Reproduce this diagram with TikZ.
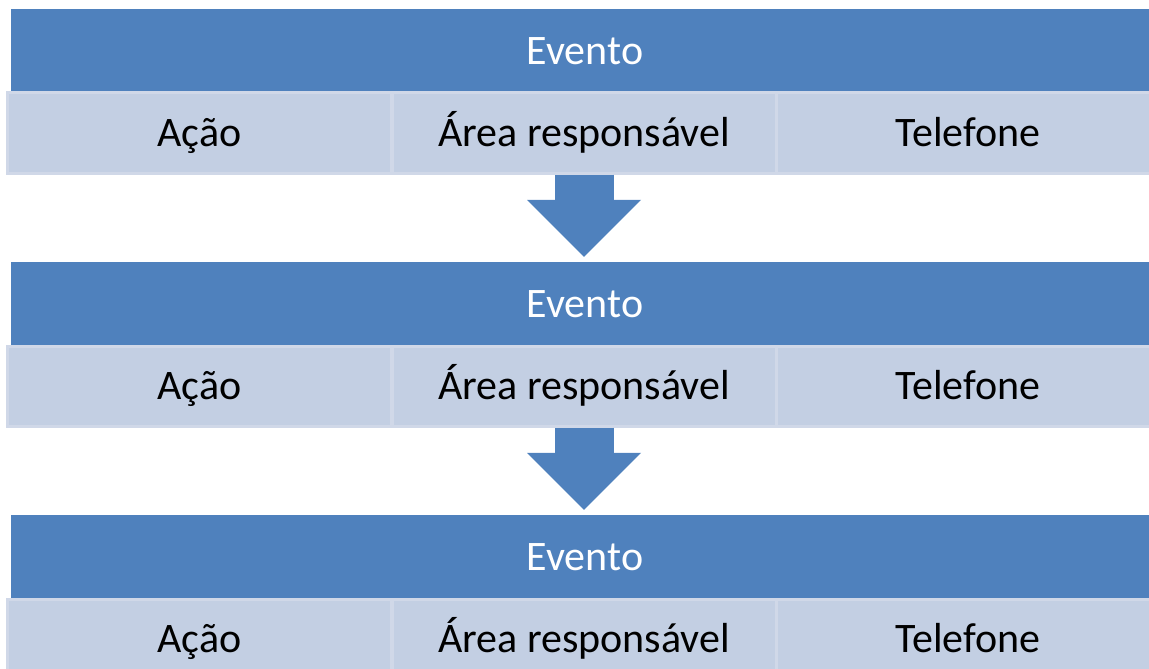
\documentclass[tikz,border=0pt]{standalone}
\usepackage{fontspec}
\setmainfont{Carlito}
\usetikzlibrary{arrows.meta}
\definecolor{eventBlue}{HTML}{4F81BD}
\definecolor{cellBlue}{HTML}{C3CFE3}
\definecolor{cellEdge}{HTML}{D0D8E8}
\begin{document}
\begin{tikzpicture}[x=1pt, y=-1pt,
	eventBand/.style={rectangle, fill=eventBlue, minimum width=1188pt, minimum height=85pt,
	inner sep=0pt, text=white, text height=30pt, text depth=3.5pt, font=\fontsize{42}{50}\selectfont},
	cellBox/.style={rectangle, fill=cellBlue, draw=cellEdge, line width=3pt, minimum width=384pt,
	minimum height=80pt, inner sep=0pt, text height=30pt, text depth=3.5pt,
	font=\fontsize{42}{50}\selectfont},
	lastCell/.style={cellBox, minimum width=424pt},
	downArrow/.style={eventBlue, line width=59pt, shorten >=5pt,
	-{Triangle[width=114pt, length=57pt, line width=0pt]}}]
		
		\clip (0,0) rectangle (1149,669);
		
		%First event
		\node (eventoA) at (605,51.5) [eventBand]{Evento\kern40pt};
		\node (acaoA) at (199.5,133) [cellBox]{Ação};
		\node (areaA) at (584,133) [cellBox]{Área responsável};
		\node (foneA) at (988,133) [lastCell]{Telefone\kern40pt};
		
		%Second event
		\node (eventoB) at (605,304.5) [eventBand]{Evento\kern40pt};
		\node (acaoB) at (199.5,386) [cellBox]{Ação};
		\node (areaB) at (584,386) [cellBox]{Área responsável};
		\node (foneB) at (988,386) [lastCell]{Telefone\kern40pt};
		
		%Third event
		\node (eventoC) at (605,557.5) [eventBand]{Evento\kern40pt};
		\node (acaoC) at (199.5,639) [cellBox]{Ação};
		\node (areaC) at (584,639) [cellBox]{Área responsável};
		\node (foneC) at (988,639) [lastCell]{Telefone\kern40pt};
		
		%Links
		\draw[downArrow] (areaA.south) -- (eventoB.north -| areaA.south);
		\draw[downArrow] (areaB.south) -- (eventoC.north -| areaB.south);
		
\end{tikzpicture}
\end{document}
